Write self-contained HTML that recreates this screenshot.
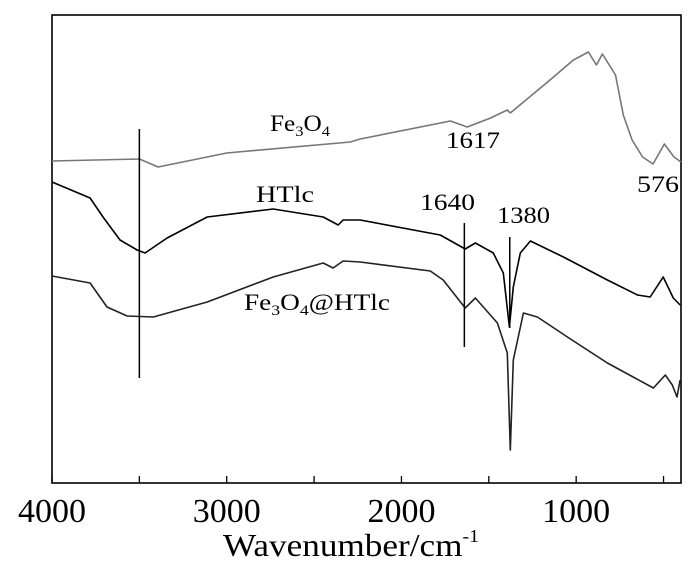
<!DOCTYPE html>
<html><head><meta charset="utf-8"><style>
html,body{margin:0;padding:0;background:#fff;}
svg{display:block;font-family:"Liberation Serif",serif;}
</style></head><body>
<svg id="chart" width="700" height="567" viewBox="0 0 700 567" xmlns="http://www.w3.org/2000/svg">
<rect x="52" y="15" width="629" height="468" fill="none" stroke="#000" stroke-width="1.6"/>
<g id="ticks"></g>
<g id="series"></g>
<g id="marks"></g>
<text x="270" y="131" font-size="23" textLength="60" lengthAdjust="spacingAndGlyphs">Fe<tspan font-size="15" dy="5">3</tspan><tspan dy="-5">O</tspan><tspan font-size="15" dy="5">4</tspan></text>
<text x="256" y="202" font-size="23" textLength="58" lengthAdjust="spacingAndGlyphs">HTlc</text>
<text x="244" y="310" font-size="23" textLength="146" lengthAdjust="spacingAndGlyphs">Fe<tspan font-size="15" dy="5">3</tspan><tspan dy="-5">O</tspan><tspan font-size="15" dy="5">4</tspan><tspan dy="-5">@HTlc</tspan></text>
<text x="446" y="148" font-size="23" textLength="54" lengthAdjust="spacingAndGlyphs">1617</text>
<text x="637" y="192" font-size="23" textLength="42" lengthAdjust="spacingAndGlyphs">576</text>
<text x="420" y="210" font-size="23" textLength="55" lengthAdjust="spacingAndGlyphs">1640</text>
<text x="497" y="223" font-size="23" textLength="53" lengthAdjust="spacingAndGlyphs">1380</text>
<text x="223" y="556" font-size="32" textLength="256" lengthAdjust="spacingAndGlyphs">Wavenumber/cm<tspan font-size="18" dy="-14">-1</tspan></text>
</svg>
<script>
const xTicks=[4000,3500,3000,2500,2000,1500,1000,500];
const xTickLabels=[4000,3000,2000,1000];
const feW=[4000,3500,3393,3000,2293,2236,1720,1623,1490,1394,1377,1150,1016,930,884,850,775,730,680,620,560,495,440,400];
const feY=[161,159,167,153,142,139,121,127,118,110,113,80,60,52,65,54,75,115,140,157,164,144,157,162];
const htW=[4000,3782,3708,3611,3513,3467,3341,3112,2734,2448,2362,2334,2236,1778,1635,1577,1474,1417,1382,1360,1320,1262,1073,821,649,576,502,444,405];
const htY=[182,198,217,240,250,253,238,217,209,217,225,220,220,235,249,243,253,273,327,287,253,241,257,280,295,297,277,298,305];
const coW=[4000,3782,3685,3570,3420,3112,2734,2448,2391,2334,2236,1835,1761,1635,1577,1451,1394,1377,1360,1302,1222,1050,821,558,490,450,423,405];
const coY=[276,283,307,316,317,302,277,263,268,261,262,271,280,308,298,323,353,450,360,313,317,337,363,388,375,385,397,380];
const markW=[3500,1640,1380];
const markTop=[129,223,237];
const markBot=[378,347,328];
const NS="http://www.w3.org/2000/svg";
const X0=52,X1=681,W0=4000,W1=400;
function xs(w){return X0+(W0-w)*(X1-X0)/(W0-W1);}
const tg=document.getElementById('ticks');
xTicks.forEach(w=>{const l=document.createElementNS(NS,'line');


l.setAttribute('x1',xs(w));l.setAttribute('x2',xs(w));l.setAttribute('y1',483);l.setAttribute('y2',476);l.setAttribute('stroke','#000');l.setAttribute('stroke-width','1.3');tg.appendChild(l);});
xTickLabels.forEach(w=>{const t=document.createElementNS(NS,'text');


t.setAttribute('x',xs(w));t.setAttribute('y',522);t.setAttribute('text-anchor','middle');t.setAttribute('font-size','34');t.textContent=w;tg.appendChild(t);});
const sg=document.getElementById('series');
function drawLine(ws,ys,color,name){const p=document.createElementNS(NS,'polyline');


p.setAttribute('points',ws.map((w,i)=>xs(w).toFixed(1)+','+ys[i]).join(' '));
p.setAttribute('fill','none');p.setAttribute('stroke',color);p.setAttribute('stroke-width','1.6');p.setAttribute('stroke-linejoin','round');sg.appendChild(p);}
drawLine(feW,feY,'#777','series-fe3o4');
drawLine(htW,htY,'#000','series-htlc');
drawLine(coW,coY,'#222','series-fe3o4-htlc');
const mg=document.getElementById('marks');
markW.forEach((w,i)=>{const l=document.createElementNS(NS,'line');


l.setAttribute('x1',xs(w));l.setAttribute('x2',xs(w));l.setAttribute('y1',markTop[i]);l.setAttribute('y2',markBot[i]);l.setAttribute('stroke','#000');l.setAttribute('stroke-width','1.5');mg.appendChild(l);});
</script>
</body></html>
